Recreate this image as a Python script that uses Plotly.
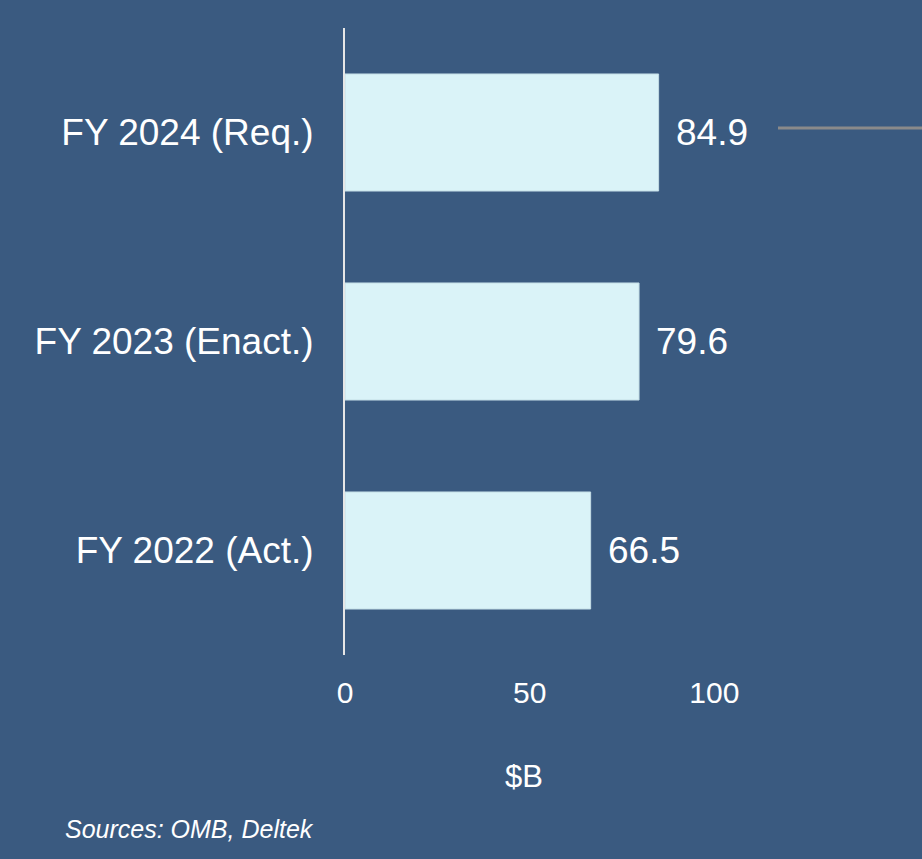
import plotly.graph_objects as go

categories = ["FY 2022 (Act.)", "FY 2023 (Enact.)", "FY 2024 (Req.)"]
values = [66.5, 79.6, 84.9]
x_ticks = [0, 50, 100]
axis_title = "$B"
source_text = "Sources: OMB, Deltek"

BG = "#3a5a80"
BAR = "#daf3f8"
FONT = "Liberation Sans, Arial, sans-serif"

fig = go.Figure()
fig.add_trace(go.Bar(
    y=categories, x=values, orientation="h",
    marker=dict(color=BAR, line=dict(color="#c4dde6", width=1)),
    hoverinfo="skip",
))

for c, v in zip(categories, values):
    fig.add_annotation(
        x=v, y=c, xref="x", yref="y", text=f"{v:.1f}", showarrow=False,
        xanchor="left", yanchor="middle", xshift=15,
        font=dict(family=FONT, size=37, color="white"),
    )

fig.add_annotation(
    x=0.31, y=-0.193, xref="paper", yref="paper", text=axis_title, showarrow=False,
    xanchor="center", yanchor="middle",
    font=dict(family=FONT, size=31, color="white"),
)
fig.add_annotation(
    x=-0.4888, y=-0.2775, xref="paper", yref="paper", text=f"<i>{source_text}</i>",
    showarrow=False, xanchor="left", yanchor="middle",
    font=dict(family=FONT, size=25, color="white"),
)

# thin gray line at the right edge
fig.add_shape(type="line", xref="paper", yref="paper",
              x0=(778 - 345) / 577, x1=1.0, y0=(655 - 128) / 627, y1=(655 - 128) / 627,
              line=dict(color="#8a8a8a", width=3))

fig.update_layout(
    width=922, height=859,
    margin=dict(l=345, r=0, t=28, b=204),
    paper_bgcolor=BG, plot_bgcolor=BG,
    bargap=0.44,
    showlegend=False,
    font=dict(family=FONT, color="white"),
    xaxis=dict(
        range=[0, 156.2], tickvals=x_ticks, showgrid=False, zeroline=False,
        showline=False, tickfont=dict(size=30, color="white"),
        ticks="", ticklabelstandoff=17,
    ),
    yaxis=dict(
        showgrid=False, zeroline=False, showline=True, linecolor="#e6e6e6",
        linewidth=2, tickfont=dict(size=37, color="white"), ticks="",
        ticklabelstandoff=22,
    ),
)

fig.write_html("out.html", config={"displayModeBar": False},
               post_script="document.body.style.margin='0';document.body.style.overflow='hidden';")
